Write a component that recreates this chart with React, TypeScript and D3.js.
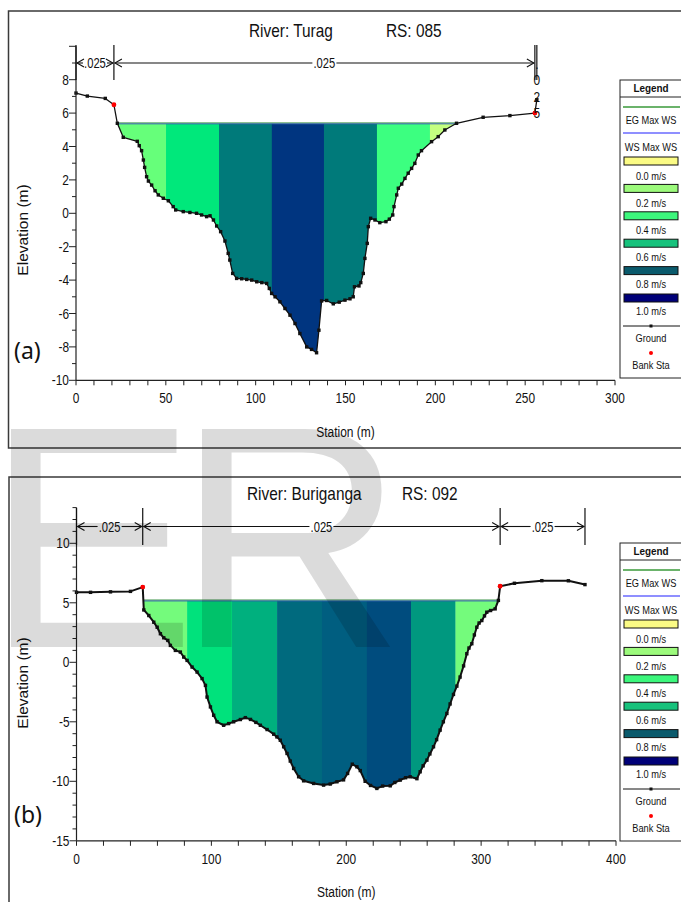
import React from 'react';
import * as d3 from 'd3';

const FONT = "'Liberation Sans', Arial, Helvetica, sans-serif";

// ---- panel (a): River Turag, RS 085 ----
const groundA: [number, number][] = [
  [0, 7.2], [6.3, 7.02], [16.3, 6.88], [21.1, 6.5], [23, 5.39], [26.3, 4.55], [34.1, 4.31], [35.2, 4.05],
  [36.5, 3.75], [37.5, 3.19], [38.2, 2.75], [39.3, 2.19], [40.3, 1.93], [42.1, 1.69], [44, 1.35], [45.8, 1.1],
  [48.6, 0.9], [51.4, 0.75], [54.1, 0.4], [55.5, 0.2], [59.7, 0.1], [63.4, 0.05], [67.1, 0], [69.9, -0.1],
  [72.7, -0.2], [74.6, -0.15], [76.5, -0.4], [78.3, -0.76], [80.5, -1.1], [82.9, -1.66], [84.7, -2.4],
  [85.6, -2.8], [87.2, -3.6], [89.4, -3.9], [92.2, -3.92], [95, -3.96], [97.8, -4.0], [100.6, -4.1],
  [103.4, -4.15], [106.1, -4.2], [107.6, -4.5], [108.9, -4.8], [110.8, -5.0], [113.5, -5.3], [116.3, -5.7],
  [119.1, -6.1], [121.9, -6.6], [124.6, -7.2], [128.4, -8.0], [131.1, -8.15], [133.9, -8.35], [135.2, -7.0],
  [136.7, -5.25], [139.5, -5.22], [143.2, -5.42], [146.5, -5.32], [149.7, -5.2], [152.5, -5.12], [154.3, -5.0],
  [155.0, -4.4], [157.5, -4.35], [158.5, -4.15], [159.9, -3.6], [160.8, -2.7], [162.1, -1.8], [162.7, -0.8],
  [164, -0.3], [166.4, -0.4], [169.1, -0.56], [172.5, -0.5], [174.4, -0.35], [176.3, -0.1], [177, 0.4],
  [178.5, 1.1], [179.4, 1.5], [181.3, 1.75], [183.1, 2.09], [184.9, 2.4], [186.8, 2.69], [188.6, 2.99],
  [190.5, 3.49], [192.3, 3.75], [197.9, 4.29], [201.6, 4.59], [205.3, 4.99], [211.8, 5.39], [226.6, 5.75],
  [241.5, 5.85], [255.4, 6.0], [256.5, 6.8],
];
const banksA: [number, number][] = [[21.1, 6.5], [255.4, 6.0]];
const wsA = 5.38;
const stripBreaksA = [50.1, 79.6, 109, 138, 167.5, 197];
const stripColorsA = ['#66ff7a', '#00e87b', '#007a7a', '#003580', '#007a7a', '#3cff80', '#c4ff80'];
const nBreaksA = [0, 21.1, 255.4, 256.5];
const nLabelsA = ['.025', '.025', '.025'];

// ---- panel (b): River Buriganga, RS 092 ----
const groundB: [number, number][] = [
  [0, 5.88], [10.4, 5.88], [25.2, 5.92], [40, 5.96], [49.1, 6.32], [49.9, 4.4], [53.6, 3.93], [57.3, 3.37],
  [59.8, 2.95], [62.2, 2.4], [64.7, 2.06], [67.7, 1.84], [69.6, 1.42], [73.3, 1.0], [77, 0.86], [79.5, 0.44],
  [82, 0.16], [85.7, -0.4], [89.4, -0.82], [93.1, -1.37], [95.6, -1.94], [96.8, -2.92], [99.3, -3.75],
  [101.7, -4.45], [104.2, -5.0], [109.1, -5.29], [112.8, -5.15], [116.5, -5.0], [121.5, -4.81], [125.2, -4.65],
  [129, -4.8], [133, -5.05], [136.3, -5.29], [141.3, -5.65], [146.2, -6.04], [148.6, -6.27], [151.1, -6.55],
  [153.6, -7.1], [156.1, -7.66], [158.5, -8.3], [161, -8.92], [164.7, -9.62], [168.4, -9.96], [175.8, -10.18],
  [183.2, -10.32], [188.1, -10.23], [193.1, -10.04], [198, -9.88], [201, -9.34], [204.5, -8.56], [207.9, -8.78],
  [210.4, -9.1], [214, -10.0], [218, -10.35], [222.7, -10.6], [227, -10.4], [232.6, -10.38], [236, -10.1],
  [240, -9.9], [244, -9.7], [247.4, -9.62], [252.4, -9.78], [254.8, -9.2], [257, -8.7], [259.8, -8.22],
  [262, -7.7], [264.7, -7.1], [267, -6.5], [269.6, -5.7], [272, -5.0], [274.6, -4.3], [277, -3.5],
  [279.5, -2.7], [282, -2.0], [284.4, -1.24], [287, -0.3], [289.4, 0.72], [291, 1.2], [293.1, 1.56],
  [295, 2.3], [296.8, 2.95], [298.5, 3.3], [300.5, 3.51], [302.5, 3.9], [304.2, 4.21], [307, 4.35],
  [310.4, 4.49], [312.8, 5.2], [314.1, 6.39], [324.7, 6.64], [345, 6.86], [364.7, 6.85], [377, 6.53],
];
const banksB: [number, number][] = [[49.1, 6.32], [314.1, 6.39]];
const wsB = 5.19;
const stripBreaksB = [82, 115.3, 148.7, 182, 215.3, 248, 281];
const stripColorsB = ['#74fb7c', '#00e27c', '#00b07e', '#006a7e', '#005e80', '#004c7e', '#00987f', '#74fb7c'];
const nBreaksB = [0, 49.1, 314.1, 377];
const nLabelsB = ['.025', '.025', '.025'];

// ---- legend ----
const legendVel = ['0.0 m/s', '0.2 m/s', '0.4 m/s', '0.6 m/s', '0.8 m/s', '1.0 m/s'];
const legendVelColors = ['#fbfb85', '#9cfa7c', '#3cf77c', '#17c27c', '#0a5a6c', '#000078'];

function wetPolygon(g: [number, number][], ws: number) {
  const pts: [number, number][] = [];
  for (let i = 0; i < g.length; i++) {
    const [x, y] = g[i];
    if (i > 0) {
      const [px, py] = g[i - 1];
      if ((py - ws) * (y - ws) < 0) {
        const t = (ws - py) / (y - py);
        pts.push([px + t * (x - px), ws]);
      }
    }
    if (y <= ws) pts.push([x, y]);
  }
  return pts;
}

function T({ x, y, size, anchor = 'middle', sx = 0.85, weight, fill = '#111', children }: any) {
  return (
    <text
      transform={`translate(${x},${y}) scale(${sx},1)`}
      fontSize={size}
      textAnchor={anchor}
      fontFamily={FONT}
      fontWeight={weight}
      fill={fill}
    >
      {children}
    </text>
  );
}

function Legend({ dy }: { dy: number }) {
  return (
    <g transform={`translate(0,${dy})`}>
      <rect x={620} y={80} width={70} height={298} fill="#fff" stroke="#222" strokeWidth={1} />
      <T x={651} y={92} size={11} weight="bold" sx={0.9}>Legend</T>
      <line x1={620} x2={690} y1={97} y2={97} stroke="#222" />
      <line x1={623} x2={680} y1={107} y2={107} stroke="#3a9a3a" strokeWidth={1.5} />
      <T x={651} y={124} size={10.5} sx={0.88}>EG Max WS</T>
      <line x1={623} x2={680} y1={133} y2={133} stroke="#6a6aff" strokeWidth={1.5} />
      <T x={651} y={151} size={10.5} sx={0.88}>WS Max WS</T>
      {legendVel.map((lab, i) => (
        <g key={lab}>
          <rect x={624} y={157 + i * 27.4} width={54} height={8} fill={legendVelColors[i]} stroke="#111" strokeWidth={1} />
          <T x={651} y={180 + i * 26.9} size={10.5} sx={0.88}>{lab}</T>
        </g>
      ))}
      <line x1={623} x2={680} y1={326} y2={326} stroke="#111" />
      <rect x={649.5} y={324.5} width={3} height={3} fill="#111" />
      <T x={651} y={342} size={10.5} sx={0.88}>Ground</T>
      <circle cx={651} cy={353} r={2} fill="#ff0000" />
      <T x={651} y={369} size={10.5} sx={0.88}>Bank Sta</T>
    </g>
  );
}

function Roughness({ xs, breaks, labels, y, top, bot }: any) {
  const out: any[] = [];
  breaks.forEach((b: number, i: number) => {
    out.push(<line key={'v' + i} x1={xs(b)} x2={xs(b)} y1={top} y2={bot} stroke="#111" strokeWidth={1.2} />);
  });
  labels.forEach((lab: string, i: number) => {
    const a = xs(breaks[i]);
    const c = xs(breaks[i + 1]);
    const w = c - a;
    if (w < 15) {
      const cx = (a + c) / 2 + 1;
      lab.split('').forEach((ch, k) => {
        out.push(<T key={'s' + i + k} x={cx} y={69 + k * 16.3} size={14} sx={0.85}>{ch}</T>);
      });
      return;
    }
    const m = (a + c) / 2;
    const hw = 12;
    out.push(
      <g key={'r' + i} stroke="#111" strokeWidth={1.1} fill="none">
        <line x1={a + 1} x2={m - hw} y1={y} y2={y} />
        <line x1={m + hw} x2={c - 1} y1={y} y2={y} />
        <polyline points={`${a + 8},${y - 4} ${a + 1},${y} ${a + 8},${y + 4}`} />
        <polyline points={`${c - 8},${y - 4} ${c - 1},${y} ${c - 8},${y + 4}`} />
      </g>
    );
    out.push(<T key={'t' + i} x={m} y={y + 5} size={14} sx={0.8}>{lab}</T>);
  });
  return <g>{out}</g>;
}

function Panel(p: any) {
  const { xs, ys, id } = p;
  const [dx0, dx1] = xs.domain();
  const [yb, yt] = ys.range();
  const [xl, xr] = xs.range();
  const wet = wetPolygon(p.ground, p.ws);
  const wetPath = (d3.line()(wet.map(([s, e]) => [xs(s), ys(e)])) as string) + 'Z';
  const groundPath = d3.line()(p.ground.map(([s, e]: number[]) => [xs(s), ys(e)])) as string;
  const edges = [dx0, ...p.breaks, dx1];
  const wsY = ys(p.ws);
  const wsX0 = xs(wet[0][0]);
  const wsX1 = xs(wet[wet.length - 1][0]);
  const [ymin, ymax] = ys.domain();
  const yTicks = d3.range(ymin, ymax + 0.5, 1);
  const xTicks = d3.range(dx0, dx1 + 0.5, p.xMinor);

  return (
    <g>
      <T x={p.titleX1} y={p.titleY} size={17.5} anchor="start" sx={0.88}>{p.title1}</T>
      <T x={p.titleX2} y={p.titleY} size={17.5} anchor="start" sx={0.88}>{p.title2}</T>
      <defs>
        <clipPath id={id}>
          <path d={wetPath} />
        </clipPath>
      </defs>
      <g clipPath={`url(#${id})`}>
        {edges.slice(0, -1).map((e: number, i: number) => (
          <rect
            key={i}
            x={xs(e)}
            width={xs(edges[i + 1]) - xs(e) + 0.3}
            y={wsY}
            height={yb - wsY}
            fill={p.colors[i]}
          />
        ))}
      </g>
      <line x1={wsX0} x2={wsX1} y1={wsY - 0.5} y2={wsY - 0.5} stroke="#2e8b3a" strokeWidth={1} />
      <line x1={wsX0} x2={wsX1} y1={wsY + 0.4} y2={wsY + 0.4} stroke="#2f5fb0" strokeWidth={0.9} />
      <path d={groundPath} fill="none" stroke="#111" strokeWidth={p.groundW} strokeLinejoin="round" />
      {p.ground.map(([s, e]: number[], i: number) => (
        <rect key={i} x={xs(s) - 1.7} y={ys(e) - 1.7} width={3.4} height={3.4} fill="#111" />
      ))}
      {p.banks.map(([s, e]: number[], i: number) => (
        <circle key={i} cx={xs(s)} cy={ys(e)} r={2.4} fill="#ff0000" />
      ))}
      {/* axes */}
      <line x1={xl} x2={xl} y1={yt} y2={yb} stroke="#222" strokeWidth={1.2} />
      <line x1={xl} x2={xr} y1={yb} y2={yb} stroke="#222" strokeWidth={1.2} />
      {yTicks.map((v: number) => {
        const major = v % p.yMajor === 0;
        return (
          <g key={'y' + v}>
            <line x1={xl - (major ? 7 : 4)} x2={xl} y1={ys(v)} y2={ys(v)} stroke="#222" />
            {major && v <= p.yLabelMax && (
              <T x={xl - 7} y={ys(v) + 5} size={14} anchor="end" sx={0.85}>{v}</T>
            )}
          </g>
        );
      })}
      {xTicks.map((v: number) => (
        <g key={'x' + v}>
          <line x1={xs(v)} x2={xs(v)} y1={yb} y2={yb + 5} stroke="#222" />
          {v % p.xMajor === 0 && (
            <T x={xs(v)} y={yb + 23} size={14} sx={0.85}>{v}</T>
          )}
        </g>
      ))}
      <T x={(xl + xr) / 2} y={p.stationY} size={15} sx={0.8}>Station (m)</T>
      <text
        transform={`translate(28,${p.elevY}) rotate(-90)`}
        fontSize={15.5}
        textAnchor="middle"
        fontFamily={FONT}
        fill="#111"
      >
        Elevation (m)
      </text>
      <text x={14} y={p.tagY} fontSize={23} fontFamily="'Noto Sans', 'Open Sans', sans-serif" fill="#111">
        {p.tag}
      </text>
      <Roughness xs={xs} breaks={p.nBreaks} labels={p.nLabels} y={p.roughY} top={p.markTop} bot={p.markBot} />
    </g>
  );
}

export default function App() {
  const xA = d3.scaleLinear().domain([0, 300]).range([76, 615]);
  const yA = d3.scaleLinear().domain([-10, 10]).range([380.3, 46.3]);
  const xB = d3.scaleLinear().domain([0, 400]).range([76.5, 616]);
  const yB = d3.scaleLinear().domain([-15, 13]).range([840.8, 507.6]);

  return (
    <svg
      width={681}
      height={902}
      viewBox="0 0 681 902"
      style={{ position: 'absolute', left: 0, top: 0, background: '#fff' }}
    >
      <rect x={0} y={0} width={681} height={902} fill="#fff" />
      {/* panel frames */}
      <g stroke="#3a3a3a" strokeWidth={1.5} fill="none">
        <polyline points="681,11 8.5,11 8.5,448 681,448" />
        <polyline points="681,477 9,477 9,902" />
      </g>
      <Panel
        id="clipA"
        xs={xA}
        ys={yA}
        ground={groundA}
        banks={banksA}
        ws={wsA}
        breaks={stripBreaksA}
        colors={stripColorsA}
        nBreaks={nBreaksA}
        nLabels={nLabelsA}
        roughY={63}
        markTop={45}
        markBot={80}
        yMajor={2}
        yLabelMax={8}
        xMinor={10}
        xMajor={50}
        title1="River: Turag"
        title2="RS: 085"
        titleX1={249}
        titleX2={386}
        titleY={37}
        stationY={437}
        elevY={230}
        tag="(a)"
        tagY={359}
        groundW={1.3}
      />
      <Panel
        id="clipB"
        xs={xB}
        ys={yB}
        ground={groundB}
        banks={banksB}
        ws={wsB}
        breaks={stripBreaksB}
        colors={stripColorsB}
        nBreaks={nBreaksB}
        nLabels={nLabelsB}
        roughY={526.5}
        markTop={508}
        markBot={545}
        yMajor={5}
        yLabelMax={10}
        xMinor={20}
        xMajor={100}
        title1="River: Buriganga"
        title2="RS: 092"
        titleX1={247}
        titleX2={402}
        titleY={500}
        stationY={897}
        elevY={683}
        tag="(b)"
        tagY={823}
        groundW={2}
      />
      <Legend dy={0} />
      <Legend dy={463} />
      {/* watermark */}
      <g fontFamily={FONT} fontSize={317} fill="#000" fillOpacity={0.14}>
        <text x={-15} y={647}>E</text>
        <text x={176} y={647}>R</text>
      </g>
    </svg>
  );
}
